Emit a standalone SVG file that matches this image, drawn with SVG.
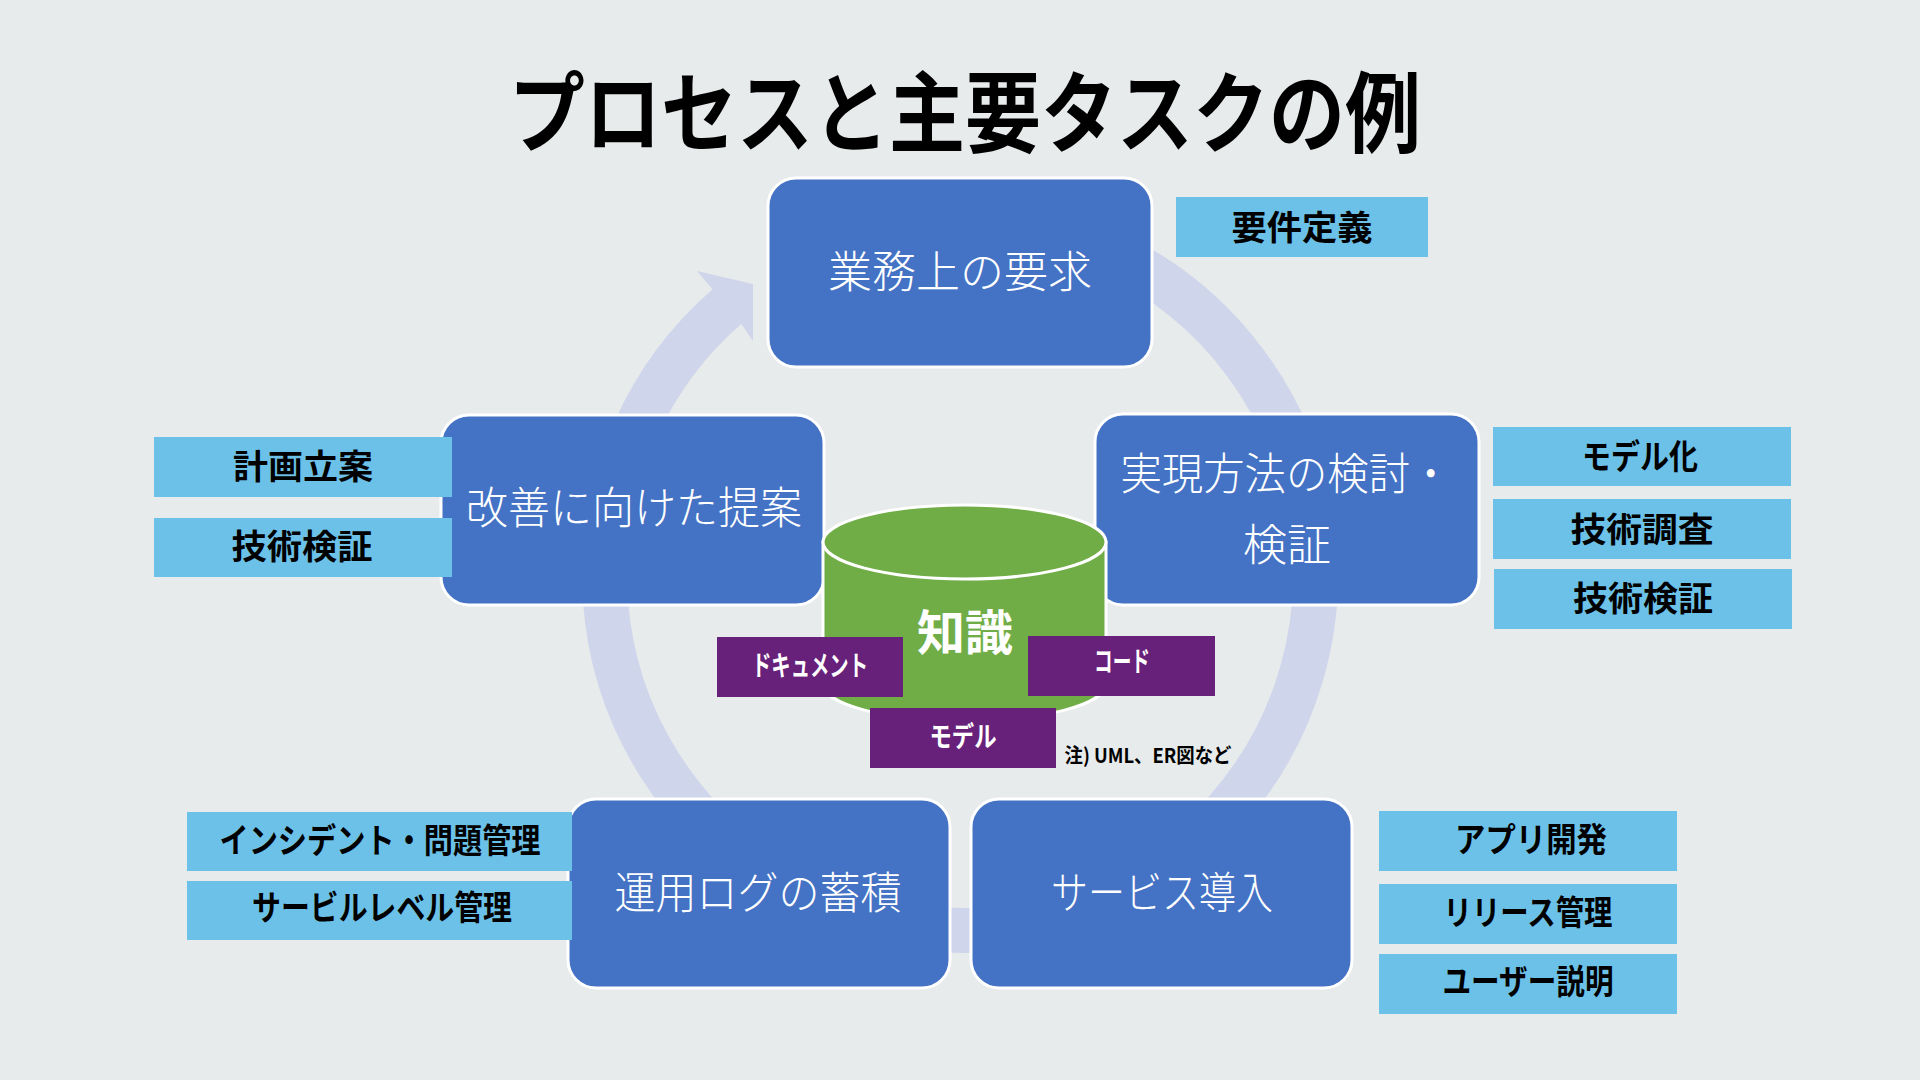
<svg xmlns="http://www.w3.org/2000/svg" width="1920" height="1080" viewBox="0 0 1920 1080">
  <defs>
    <style>
      .node { fill: #4472C4; stroke: #FFFFFF; stroke-width: 3; }
      .task { fill: #6CC1E8; }
      .kbox { fill: #68217A; }
      .ntext { font-family: "Noto Sans CJK JP", "Noto Sans", sans-serif; font-weight: 300; font-size: 44px; fill: #FFFFFF; text-anchor: middle; }
      .ttext { font-family: "Noto Sans CJK JP", "Noto Sans", sans-serif; font-weight: 700; font-size: 34px; fill: #000000; text-anchor: middle; }
      .ktext { font-family: "Noto Sans CJK JP", "Noto Sans", sans-serif; font-weight: 700; font-size: 28px; fill: #FFFFFF; text-anchor: middle; }
    </style>
  </defs>
  <rect x="0" y="0" width="1920" height="1080" fill="#E8EBEC"/>

  <text x="965" y="145" textLength="912" lengthAdjust="spacingAndGlyphs" font-family="'Noto Sans CJK JP', 'Noto Sans', sans-serif" font-weight="700" font-size="88" fill="#000000" text-anchor="middle">プロセスと主要タスクの例</text>

  <g id="connectors">
    <path d="M 960 219.5 A 355.5 355.5 0 1 1 727.3 306.3" fill="none" stroke="#CFD5EA" stroke-width="45"/>
    <polygon points="697,271 753,284 753,341 740,322" fill="#CFD5EA"/>
  </g>

  <g id="node-business">
    <rect class="node" x="768" y="178" width="384" height="189" rx="28" ry="28"/>
    <text class="ntext" x="960" y="288">業務上の要求</text>
  </g>
  <g id="node-method">
    <rect class="node" x="1095" y="414" width="384" height="191" rx="28" ry="28"/>
    <text class="ntext" x="1286" y="490" textLength="331" lengthAdjust="spacingAndGlyphs">実現方法の検討・</text>
    <text class="ntext" x="1287" y="561">検証</text>
  </g>
  <g id="node-proposal">
    <rect class="node" x="441" y="415" width="383" height="190" rx="28" ry="28"/>
    <text class="ntext" x="634" y="524" textLength="336" lengthAdjust="spacingAndGlyphs">改善に向けた提案</text>
  </g>
  <g id="node-operation">
    <rect class="node" x="568" y="799" width="382" height="189" rx="28" ry="28"/>
    <text class="ntext" x="758" y="909" textLength="287" lengthAdjust="spacingAndGlyphs">運用ログの蓄積</text>
  </g>
  <g id="node-service">
    <rect class="node" x="971" y="799" width="381" height="189" rx="28" ry="28"/>
    <text class="ntext" x="1162" y="909" textLength="222" lengthAdjust="spacingAndGlyphs">サービス導入</text>
  </g>

  <g id="knowledge">
    <path d="M 823 542 L 823 684 A 141.5 37 0 0 0 1106 684 L 1106 542 Z" fill="#70AD47" stroke="#FFFFFF" stroke-width="3"/>
    <ellipse cx="964.5" cy="542" rx="141.5" ry="37" fill="#70AD47" stroke="#FFFFFF" stroke-width="3"/>
    <text x="965" y="650" font-family="'Noto Sans CJK JP', 'Noto Sans', sans-serif" font-weight="700" font-size="48" fill="#FFFFFF" text-anchor="middle">知識</text>
  </g>

  <g id="k-document">
    <rect class="kbox" x="717" y="637" width="186" height="60"/>
    <text class="ktext" x="810" y="676" textLength="116" lengthAdjust="spacingAndGlyphs">ドキュメント</text>
  </g>
  <g id="k-code">
    <rect class="kbox" x="1028" y="636" width="187" height="60"/>
    <text class="ktext" x="1122" y="672" textLength="56" lengthAdjust="spacingAndGlyphs">コード</text>
  </g>
  <g id="k-model">
    <rect class="kbox" x="870" y="708" width="186" height="60"/>
    <text class="ktext" x="963" y="747" textLength="67" lengthAdjust="spacingAndGlyphs">モデル</text>
  </g>
  <text x="1148" y="763" textLength="167" lengthAdjust="spacingAndGlyphs" font-family="'Noto Sans CJK JP', 'Noto Sans', sans-serif" font-weight="700" font-size="20" fill="#000000" text-anchor="middle">注) UML、ER図など</text>

  <g id="task-requirements">
    <rect class="task" x="1176" y="197" width="252" height="60"/>
    <text class="ttext" x="1302" y="240" textLength="141" lengthAdjust="spacingAndGlyphs">要件定義</text>
  </g>
  <g id="task-modeling">
    <rect class="task" x="1493" y="427" width="298" height="59"/>
    <text class="ttext" x="1640" y="469" textLength="116" lengthAdjust="spacingAndGlyphs">モデル化</text>
  </g>
  <g id="task-research">
    <rect class="task" x="1493" y="499" width="298" height="60"/>
    <text class="ttext" x="1642" y="542" textLength="143" lengthAdjust="spacingAndGlyphs">技術調査</text>
  </g>
  <g id="task-verify-r">
    <rect class="task" x="1494" y="569" width="298" height="60"/>
    <text class="ttext" x="1643" y="611" textLength="140" lengthAdjust="spacingAndGlyphs">技術検証</text>
  </g>
  <g id="task-planning">
    <rect class="task" x="154" y="437" width="298" height="60"/>
    <text class="ttext" x="303" y="479" textLength="140" lengthAdjust="spacingAndGlyphs">計画立案</text>
  </g>
  <g id="task-verify-l">
    <rect class="task" x="154" y="518" width="298" height="59"/>
    <text class="ttext" x="302" y="559" textLength="141" lengthAdjust="spacingAndGlyphs">技術検証</text>
  </g>
  <g id="task-incident">
    <rect class="task" x="187" y="812" width="385" height="59"/>
    <text class="ttext" x="380" y="853" textLength="321" lengthAdjust="spacingAndGlyphs">インシデント・問題管理</text>
  </g>
  <g id="task-slm">
    <rect class="task" x="187" y="881" width="385" height="59"/>
    <text class="ttext" x="382" y="920" textLength="260" lengthAdjust="spacingAndGlyphs">サービルレベル管理</text>
  </g>
  <g id="task-app">
    <rect class="task" x="1379" y="811" width="298" height="60"/>
    <text class="ttext" x="1531" y="852" textLength="152" lengthAdjust="spacingAndGlyphs">アプリ開発</text>
  </g>
  <g id="task-release">
    <rect class="task" x="1379" y="884" width="298" height="60"/>
    <text class="ttext" x="1528" y="925" textLength="169" lengthAdjust="spacingAndGlyphs">リリース管理</text>
  </g>
  <g id="task-user">
    <rect class="task" x="1379" y="954" width="298" height="60"/>
    <text class="ttext" x="1528" y="994" textLength="171" lengthAdjust="spacingAndGlyphs">ユーザー説明</text>
  </g>
</svg>
